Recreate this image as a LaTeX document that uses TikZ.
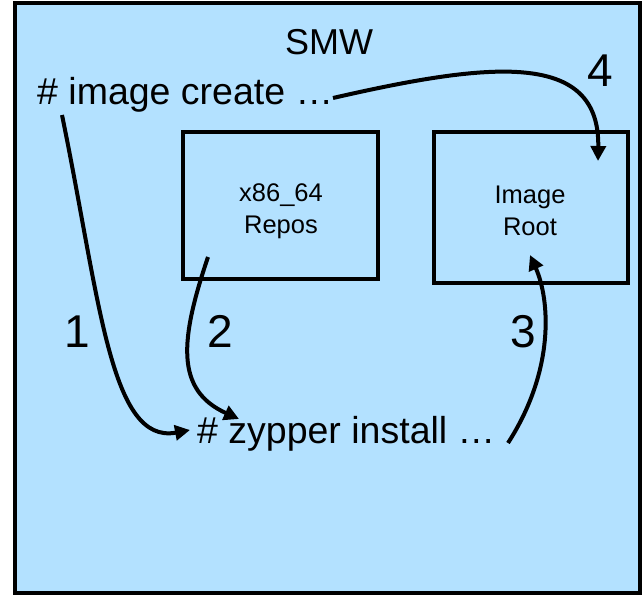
\documentclass[tikz,border=0pt]{standalone}
\usepackage{fontspec}
\setmainfont{Liberation Sans}
\usetikzlibrary{arrows.meta}
\definecolor{panelblue}{HTML}{B3E1FF}
\tikzset{
  panel/.style={draw=black, line width=4pt, fill=panelblue},
  store/.style={draw=black, line width=4pt, inner sep=0pt},
  storetext/.style={align=center, inner sep=0pt, font=\fontsize{25.5}{32}\selectfont},
  cmd/.style={anchor=base west, inner sep=0pt, font=\fontsize{37.5}{42}\selectfont},
  stepnum/.style={anchor=base, inner sep=0pt, font=\fontsize{46}{50}\selectfont},
  flow/.style={line width=4pt, -{Triangle[length=15pt,width=15pt]}},
}
\begin{document}
\begin{tikzpicture}[x=1pt,y=-1pt]
  \useasboundingbox (0,0) rectangle (643,596);
  % host frame
  \draw[panel] (15,3) rectangle (640,593);
  \node[anchor=base, inner sep=0pt, font=\fontsize{36}{40}\selectfont] (smw) at (329,55) {SMW};

  % repositories and target root
  \node[store, minimum width=195pt, minimum height=147pt] (repos) at (280.5,205.5) {};
  \node[store, minimum width=194pt, minimum height=151pt] (root) at (531,207.5) {};
  \node[storetext] (repostext) at (281,211) {x86\_64\\Repos};
  \node[storetext] (roottext) at (530,211) {Image\\Root};

  % commands
  \node[cmd] (create) at (37,105) {\# image create …};
  \node[cmd] (zypper) at (197,443) {\# zypper install …};

  % step numbers
  \node[stepnum] (n1) at (77,347) {1};
  \node[stepnum] (n2) at (220,348) {2};
  \node[stepnum] (n3) at (523,348) {3};
  \node[stepnum] (n4) at (600,87) {4};

  % connector end points
  \coordinate (a1s) at (62,115);
  \coordinate (a1e) at (190,430);
  \coordinate (a2s) at (208,257);
  \coordinate (a2e) at (239,419);
  \coordinate (a3s) at (508,443);
  \coordinate (a3e) at (530,255);
  \coordinate (a4s) at (333,98);
  \coordinate (a4e) at (598,161);

  % numbered steps
  \draw[flow] (a1s) .. controls (100,300) and (110,445) .. (a1e);
  \draw[flow] (a2s) .. controls (180,340) and (175,390) .. (a2e);
  \draw[flow] (a3s) .. controls (555,370) and (550,300) .. (a3e);
  \draw[flow] (a4s) .. controls (490,62) and (600,50) .. (a4e);
\end{tikzpicture}
\end{document}
